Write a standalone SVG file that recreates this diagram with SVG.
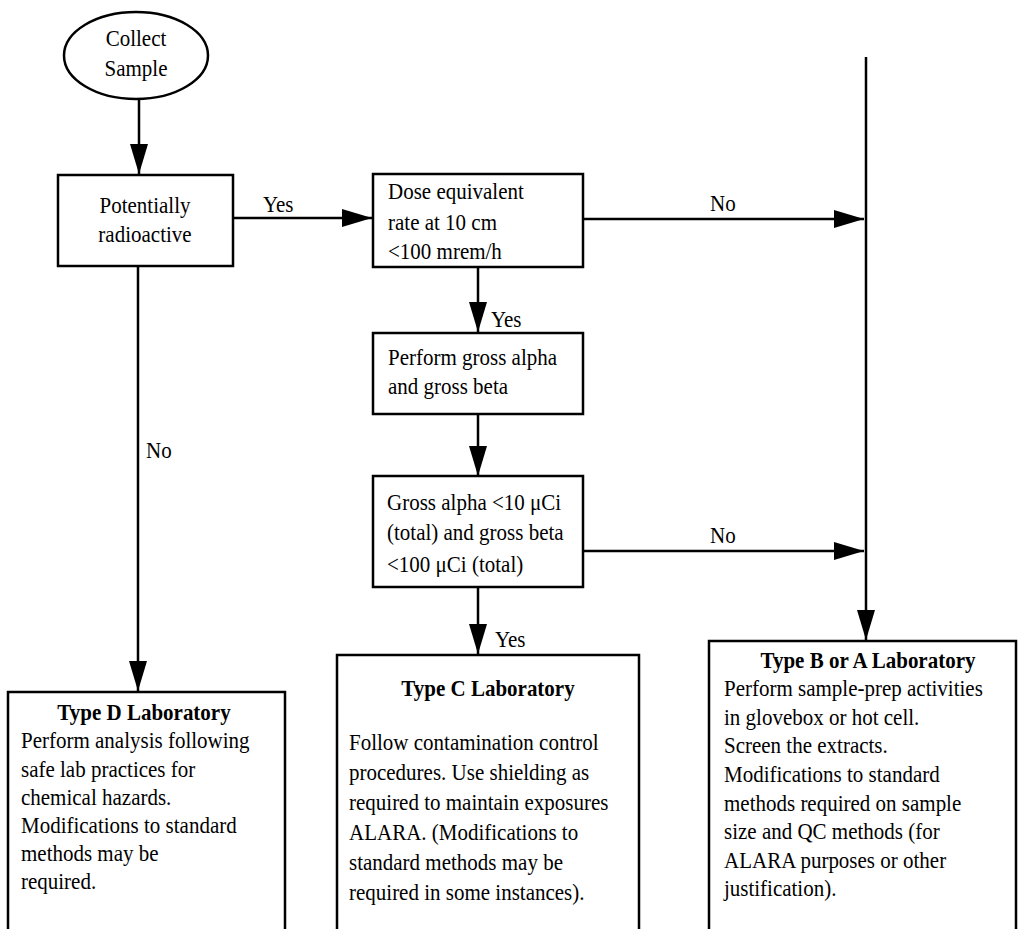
<svg xmlns="http://www.w3.org/2000/svg" width="1018" height="929" viewBox="0 0 1018 929">
  <style>
    /* narrow, tall serif lettering: a 23px face squeezed horizontally */
    text { font-family: "Liberation Serif", "Times New Roman", serif; font-size: 23px; fill: #000;
           transform-box: fill-box; transform-origin: 0 100%; transform: scaleX(0.913); }
    .title { font-weight: bold; text-anchor: middle; transform-origin: 50% 100%; }
    .mid { text-anchor: middle; transform-origin: 50% 100%; }
    .shape { fill: #fff; stroke: #000; stroke-width: 2.5; }
    .wire { fill: none; stroke: #000; stroke-width: 2.5; }
  </style>
  <defs>
    <marker id="head" markerUnits="userSpaceOnUse" markerWidth="31" markerHeight="18" refX="30" refY="9" orient="auto">
      <path d="M0,0 L30,9 L0,18 Z" fill="#000"/>
    </marker>
  </defs>
  <rect width="1018" height="929" fill="#fff"/>

  <!-- connectors -->
  <g id="connectors">
    <line class="wire" x1="139" y1="99" x2="139" y2="174" marker-end="url(#head)"/>
    <line class="wire" x1="233" y1="218" x2="372" y2="218" marker-end="url(#head)"/>
    <line class="wire" x1="583" y1="219" x2="864" y2="219" marker-end="url(#head)"/>
    <line class="wire" x1="866" y1="57" x2="866" y2="640" marker-end="url(#head)"/>
    <line class="wire" x1="478" y1="267" x2="478" y2="332" marker-end="url(#head)"/>
    <line class="wire" x1="478" y1="414" x2="478" y2="476" marker-end="url(#head)"/>
    <line class="wire" x1="583" y1="551" x2="864" y2="551" marker-end="url(#head)"/>
    <line class="wire" x1="478" y1="587" x2="478" y2="654" marker-end="url(#head)"/>
    <line class="wire" x1="138" y1="266" x2="138" y2="691" marker-end="url(#head)"/>
    <text x="263" y="212">Yes</text>
    <text x="710" y="211">No</text>
    <text x="491" y="327">Yes</text>
    <text x="710" y="543">No</text>
    <text x="495" y="647">Yes</text>
    <text x="146" y="458">No</text>
  </g>

  <g id="collect">
    <ellipse class="shape" cx="136" cy="55.5" rx="72" ry="43.5"/>
    <text class="mid" x="136" y="46">Collect</text>
    <text class="mid" x="136" y="76">Sample</text>
  </g>

  <g id="radioactive">
    <rect class="shape" x="58" y="175" width="175" height="91"/>
    <text class="mid" x="145" y="213">Potentially</text>
    <text class="mid" x="145" y="242">radioactive</text>
  </g>

  <g id="dose-rate">
    <rect class="shape" x="373" y="174" width="210" height="93"/>
    <text x="388" y="199">Dose equivalent</text>
    <text x="388" y="230">rate at 10 cm</text>
    <text x="388" y="259">&lt;100 mrem/h</text>
  </g>

  <g id="gross-count">
    <rect class="shape" x="373" y="333" width="210" height="81"/>
    <text x="388" y="365">Perform gross alpha</text>
    <text x="388" y="394">and gross beta</text>
  </g>

  <g id="activity-limit">
    <rect class="shape" x="373" y="476" width="210" height="111"/>
    <text x="387" y="510">Gross alpha &lt;10 μCi</text>
    <text x="387" y="540">(total) and gross beta</text>
    <text x="387" y="572">&lt;100 μCi (total)</text>
  </g>

  <g id="lab-d">
    <rect class="shape" x="8" y="692" width="277" height="260"/>
    <text class="title" x="144" y="720">Type D Laboratory</text>
    <text x="21" y="748">Perform analysis following</text>
    <text x="21" y="777">safe lab practices for</text>
    <text x="21" y="805">chemical hazards.</text>
    <text x="21" y="833">Modifications to standard</text>
    <text x="21" y="861">methods may be</text>
    <text x="21" y="889">required.</text>
  </g>

  <g id="lab-c">
    <rect class="shape" x="337" y="655" width="302" height="300"/>
    <text class="title" x="488" y="696">Type C Laboratory</text>
    <text x="349" y="750">Follow contamination control</text>
    <text x="349" y="780">procedures. Use shielding as</text>
    <text x="349" y="810">required to maintain exposures</text>
    <text x="349" y="840">ALARA. (Modifications to</text>
    <text x="349" y="870">standard methods may be</text>
    <text x="349" y="900">required in some instances).</text>
  </g>

  <g id="lab-ba">
    <rect class="shape" x="709" y="641" width="307" height="310"/>
    <text class="title" x="868" y="668">Type B or A Laboratory</text>
    <text x="724" y="696">Perform sample-prep activities</text>
    <text x="724" y="725">in glovebox or hot cell.</text>
    <text x="724" y="753">Screen the extracts.</text>
    <text x="724" y="782">Modifications to standard</text>
    <text x="724" y="811">methods required on sample</text>
    <text x="724" y="839">size and QC methods (for</text>
    <text x="724" y="868">ALARA purposes or other</text>
    <text x="724" y="896">justification).</text>
  </g>
</svg>
